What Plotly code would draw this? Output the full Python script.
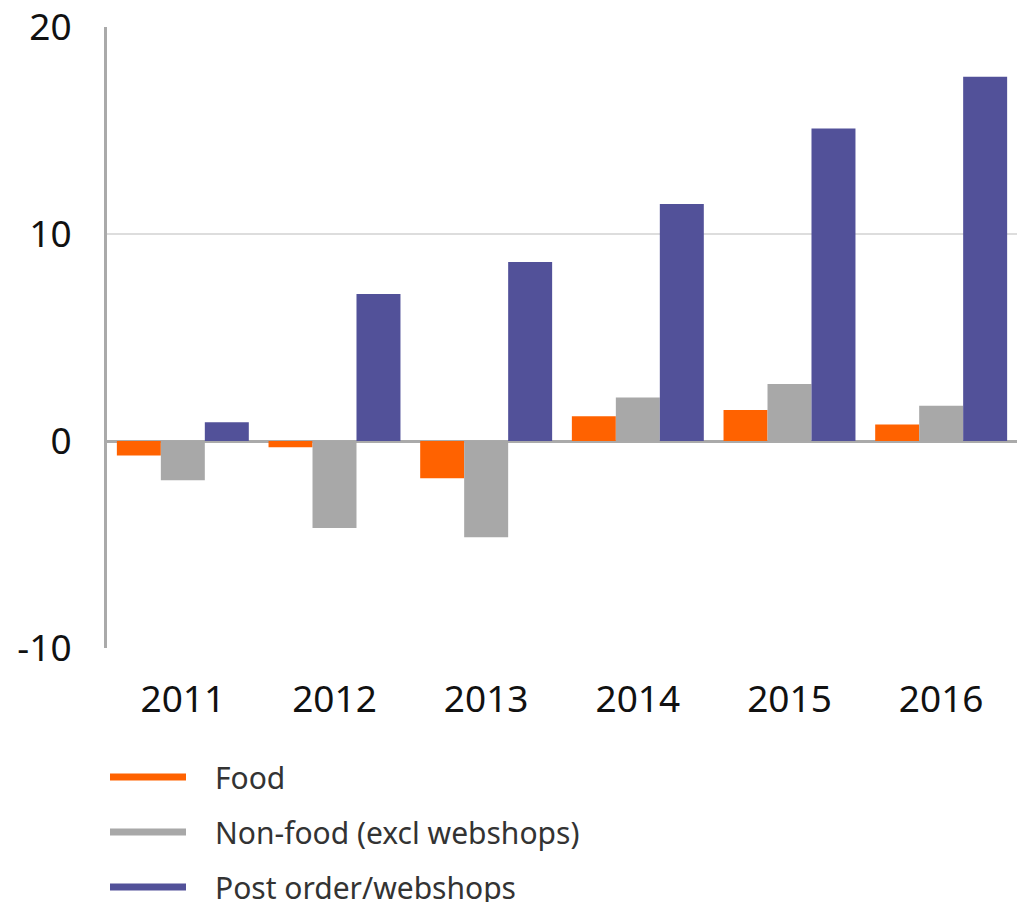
import plotly.graph_objects as go

years = ["2011", "2012", "2013", "2014", "2015", "2016"]
food = [-0.7, -0.3, -1.8, 1.2, 1.5, 0.8]
nonfood = [-1.9, -4.2, -4.65, 2.1, 2.75, 1.7]
post = [0.9, 7.1, 8.65, 11.45, 15.1, 17.6]
series_names = ["Food", "Non-food (excl webshops)", "Post order/webshops"]
colors = ["#FF6200", "#A8A8A8", "#525199"]
y_ticks = [-10, 0, 10, 20]
y_ticktext = ["-10", "0", "10", "20"]

fig = go.Figure()
for name, vals, col in zip(series_names, [food, nonfood, post], colors):
    fig.add_trace(go.Bar(x=years, y=vals, name=name, marker_color=col,
                         marker_line_width=0, showlegend=False))

# legend drawn as line + text
for i, (name, col) in enumerate(zip(series_names, colors)):
    ypix = 777 + i * 55
    yp = 1 - (ypix - 27) / (648 - 27)
    fig.add_shape(type="line", xref="paper", yref="paper",
                  x0=(110 - 107) / 910, x1=(186 - 107) / 910, y0=yp, y1=yp,
                  line=dict(color=col, width=7))
    fig.add_annotation(xref="paper", yref="paper", x=(213 - 107) / 910, y=yp,
                       text=name, showarrow=False, xanchor="left", yanchor="middle",
                       font=dict(family="Noto Sans", size=30, color="#333333"))

fig.update_layout(
    width=1017, height=902,
    margin=dict(l=107, r=0, t=27, b=254),
    paper_bgcolor="white", plot_bgcolor="white",
    barmode="group", bargap=0.13, bargroupgap=0,
    font=dict(family="Noto Sans", size=37, color="#111111"),
    showlegend=False,
)
fig.update_xaxes(showgrid=False, showline=False, ticks="", ticklabelstandoff=26,
                 tickfont=dict(size=37))
fig.update_yaxes(range=[-10, 20], tickvals=y_ticks, ticktext=y_ticktext,
                 showgrid=True, gridcolor="#DDDDDD",
                 gridwidth=1.5, zeroline=True, zerolinecolor="#AAAAAA", zerolinewidth=3,
                 showline=True, linecolor="#AAAAAA", linewidth=3, ticks="",
                 ticklabelstandoff=25, ticklabeloverflow="allow",
                 tickfont=dict(size=37))

fig.write_html("out.html")
